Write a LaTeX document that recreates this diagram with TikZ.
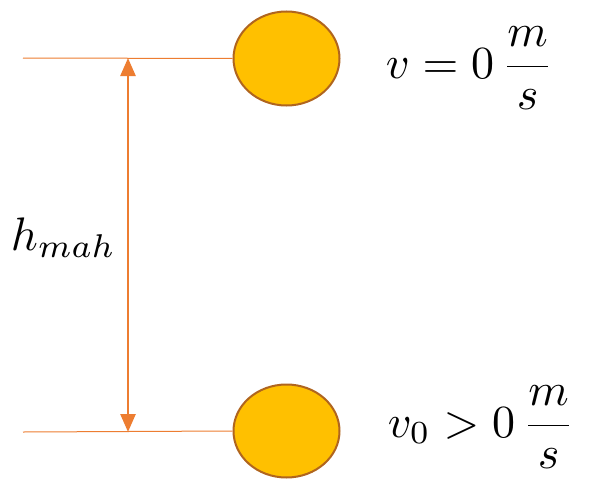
\documentclass[tikz,border=0pt]{standalone}
\usetikzlibrary{shapes.geometric,arrows.meta}
\definecolor{lineorange}{HTML}{ED7D31}
\definecolor{ballfill}{HTML}{FFC000}
\definecolor{ballborder}{HTML}{B0651E}
\begin{document}
\begin{tikzpicture}[x=1pt,y=-1pt,
  ball/.style={ellipse,draw=ballborder,fill=ballfill,line width=2pt,inner sep=0pt},
  guide/.style={draw=lineorange,line width=1pt},
  harrow/.style={draw=lineorange,line width=2.5pt,{Triangle[width=15pt,length=18pt]}-{Triangle[width=15pt,length=18pt]}},
  lbl/.style={inner sep=0pt,anchor=base west}]
\useasboundingbox[fill=white] (0,0) rectangle (591,479);
\node[ball,minimum width=106pt,minimum height=94pt] (top) at (286.5,58.5) {};
\node[ball,minimum width=106pt,minimum height=93pt] (bot) at (286.5,431) {};
\coordinate (tl) at (23,58);
\coordinate (bl) at (23,432);
\coordinate (a1) at (128,58);
\coordinate (a2) at (128,432);
\draw[guide] (tl) -- (top.west);
\draw[guide] (bl) -- (bot.west);
\draw[harrow] (a1) -- (a2);
\node[lbl,scale=4.7] (h) at (10,250) {$h_{mah}$};
\node[lbl,scale=4.6] (vt) at (385,78) {$\displaystyle v=0\,\frac{m}{s}$};
\node[lbl,scale=4.6] (vb) at (387,437) {$\displaystyle v_0>0\,\frac{m}{s}$};
\end{tikzpicture}
\end{document}
